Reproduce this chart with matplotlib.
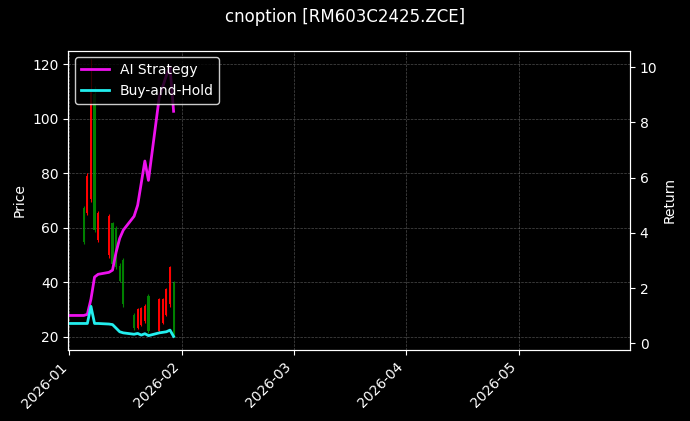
import numpy as np
import pandas as pd
import matplotlib
matplotlib.use("Agg")
import matplotlib.pyplot as plt
import matplotlib.dates as mdates

# 日K
dates = pd.to_datetime([
    "2026-01-05", "2026-01-06", "2026-01-07", "2026-01-08", "2026-01-09",
    "2026-01-12", "2026-01-13", "2026-01-14", "2026-01-15", "2026-01-16",
    "2026-01-19", "2026-01-20", "2026-01-21", "2026-01-22", "2026-01-23",
    "2026-01-26", "2026-01-27", "2026-01-28", "2026-01-29", "2026-01-30",
])
opens  = [67.3, 65.4, 70.4, 108.9, 55.4, 49.9, 61.6, 59.8, 46.1, 48.0, 28.1, 23.1, 24.4, 25.6, 34.9, 21.9, 25.0, 28.1, 31.8, 39.9]
closes = [54.8, 79.1, 110.2, 59.2, 65.4, 64.1, 46.8, 45.5, 40.5, 31.8, 23.1, 30.0, 30.6, 31.2, 21.9, 33.7, 33.7, 37.4, 45.5, 20.6]
highs  = [68.0, 80.0, 122.0, 112.0, 66.0, 65.0, 62.0, 60.5, 47.0, 49.0, 28.5, 30.5, 31.0, 31.8, 35.5, 34.0, 34.0, 38.0, 46.0, 40.5]
lows   = [54.0, 64.5, 69.5, 58.5, 54.8, 49.0, 46.0, 45.0, 40.0, 31.0, 22.5, 22.8, 24.0, 25.0, 21.5, 21.5, 24.5, 27.5, 31.0, 20.0]

ret_dates = pd.to_datetime(["2026-01-01"]).append(dates)
ai_ret = [1.01, 1.01, 1.05, 1.6, 2.4, 2.5, 2.57, 2.65, 3.3, 3.8, 4.1, 4.6, 5.0, 5.8, 6.6, 5.9, 8.9, 9.3, 9.7, 10.0, 8.4]
bh_ret = [0.72, 0.72, 0.72, 1.34, 0.72, 0.72, 0.70, 0.68, 0.55, 0.42, 0.38, 0.33, 0.36, 0.30, 0.35, 0.28, 0.38, 0.40, 0.42, 0.48, 0.25]

month_labels = ["2026-01", "2026-02", "2026-03", "2026-04", "2026-05"]

plt.style.use("dark_background")
fig, ax = plt.subplots(figsize=(6.9, 4.21), dpi=100)
fig.subplots_adjust(left=0.099, right=0.913, top=0.88, bottom=0.168)

for d, o, c, h, l in zip(dates, opens, closes, highs, lows):
    col = "red" if c >= o else "green"
    ax.vlines(d, l, h, color=col, lw=0.8)
    ax.bar(d, abs(c - o), bottom=min(o, c), width=0.6, color=col)

ax.set_ylabel("Price")
ax.set_ylim(15, 125)
x0 = mdates.date2num(pd.Timestamp("2026-01-01"))
ax.set_xlim(x0 - 0.3, x0 + 156)
ax.set_xticks([x0 + 31.25 * i for i in range(len(month_labels))])
ax.set_xticklabels(month_labels, rotation=45, ha="right")
ax.grid(color="gray", ls="--", lw=0.5, alpha=0.6)

ax2 = ax.twinx()
ax2.plot(ret_dates, ai_ret, color="#ee11ee", lw=2, label="AI Strategy")
ax2.plot(ret_dates, bh_ret, color="#22eeee", lw=2, label="Buy-and-Hold")
ax2.set_ylim(-0.25, 10.6)
ax2.set_ylabel("Return")
ax2.legend(loc="upper left", facecolor="black", edgecolor="white")

fig.suptitle("cnoption [RM603C2425.ZCE]")
fig.savefig("out.png", dpi=100)
